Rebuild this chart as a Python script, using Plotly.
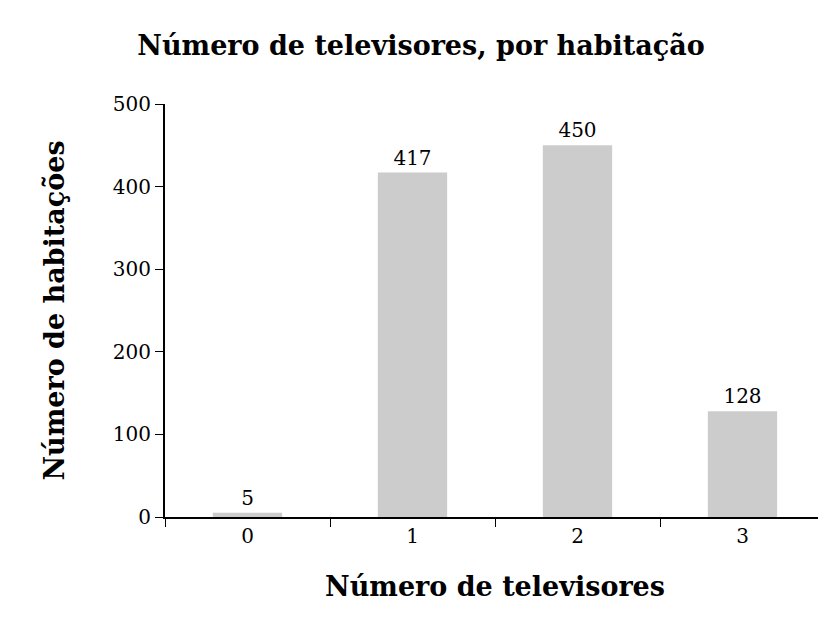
import plotly.graph_objects as go

categories = [0, 1, 2, 3]
tick_labels = ["0", "1", "2", "3"]
households = [5, 417, 450, 128]

font = "DejaVu Serif, Liberation Serif, serif"

fig = go.Figure()
fig.add_trace(go.Bar(
    x=categories,
    y=households,
    text=[str(v) for v in households],
    textposition="outside",
    textfont=dict(size=20, color="black", family=font),
    marker=dict(color="#cccccc", line=dict(width=0)),
    cliponaxis=False,
    width=0.42,
))

fig.update_layout(
    width=826, height=625,
    margin=dict(l=157, r=9, t=96, b=116, autoexpand=False),
    plot_bgcolor="white", paper_bgcolor="white",
    font=dict(family=font, color="black", size=20),
    title=dict(text="<b>Número de televisores, por habitação</b>",
               x=0.5, xanchor="center", y=0.94, yanchor="middle",
               font=dict(size=27)),
    showlegend=False,
)
fig.update_xaxes(
    range=[-0.5, 3.5], tickvals=categories, ticktext=tick_labels,
    ticks="", showline=True, linecolor="black", linewidth=2,
    showgrid=False, zeroline=False,
    minor=dict(ticks="outside", tick0=-0.5, dtick=1, ticklen=8, tickcolor="black", showgrid=False),
    title=dict(text="<b>Número de televisores</b>", font=dict(size=27), standoff=30),
)
fig.update_yaxes(
    range=[0, 500], dtick=100, ticks="outside", ticklen=8, tickcolor="black",
    showline=True, linecolor="black", linewidth=2,
    showgrid=False, zeroline=False,
    title=dict(text="<b>Número de habitações</b>", font=dict(size=27), standoff=40),
)

fig.write_html("out.html")
